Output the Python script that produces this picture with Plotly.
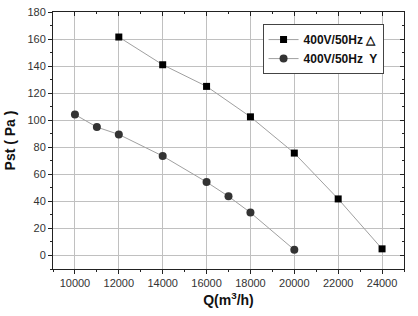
import plotly.graph_objects as go

q_delta = [12000, 14000, 16000, 18000, 20000, 22000, 24000]
p_delta = [161.5, 141, 125, 102.5, 75.7, 41.8, 4.9]
q_y = [10000, 11000, 12000, 14000, 16000, 17000, 18000, 20000]
p_y = [104.2, 94.9, 89.5, 73.5, 54.3, 43.7, 31.7, 4.2]

x_ticks = [10000, 12000, 14000, 16000, 18000, 20000, 22000, 24000]
y_ticks = [0, 20, 40, 60, 80, 100, 120, 140, 160, 180]

name_delta = "<b>400V/50Hz \u25b3</b>"
name_y = "<b>400V/50Hz  Y</b>"

fig = go.Figure()
fig.add_trace(go.Scatter(x=q_delta, y=p_delta, mode="lines+markers", name=name_delta,
                         line=dict(color="#a0a0a0", width=1),
                         marker=dict(symbol="square", size=7, color="#000000")))
fig.add_trace(go.Scatter(x=q_y, y=p_y, mode="lines+markers", name=name_y,
                         line=dict(color="#a0a0a0", width=1),
                         marker=dict(symbol="circle", size=8, color="#333333")))
# carrier for mirrored frame axes (top / right, inward ticks)
fig.add_trace(go.Scatter(x=[x_ticks[0]], y=[y_ticks[0]], xaxis="x2", yaxis="y2", mode="markers",
                         marker=dict(opacity=0), showlegend=False, hoverinfo="skip"))

font = "Liberation Sans, Arial, sans-serif"
xr = [9000, 25000]
yr = [-10, 180]
fig.update_layout(
    width=418, height=316,
    margin=dict(l=53, r=14, t=12, b=47, autoexpand=False),
    paper_bgcolor="white", plot_bgcolor="white",
    font=dict(family=font, size=11, color="#222222"),
    xaxis=dict(range=xr, tickvals=x_ticks, tickformat="d",
               showgrid=True, gridcolor="#c0c0c0", gridwidth=1,
               showline=True, linecolor="#222222", linewidth=1,
               ticks="outside", ticklen=4, tickcolor="#222222",
               minor=dict(dtick=1000, tick0=9000, ticks="outside", ticklen=2, tickcolor="#222222", showgrid=False),
               zeroline=False, automargin=False,
               tickfont=dict(size=11, color="#333333"),
               title=dict(text="<b>Q(m<sup>3</sup>/h)</b>", font=dict(size=14, color="#111111"), standoff=6)),
    yaxis=dict(range=yr, tickvals=y_ticks, tickformat="d",
               showgrid=True, gridcolor="#c0c0c0", gridwidth=1,
               showline=True, linecolor="#222222", linewidth=1,
               ticks="outside", ticklen=4, tickcolor="#222222",
               minor=dict(dtick=10, tick0=0, ticks="outside", ticklen=2, tickcolor="#222222", showgrid=False),
               zeroline=False, automargin=False,
               tickfont=dict(size=11, color="#333333"),
               title=dict(text="<b>Pst ( Pa )</b>", font=dict(size=14, color="#111111"), standoff=8)),
    xaxis2=dict(range=xr, overlaying="x", side="top", anchor="y2",
                tickvals=x_ticks, showticklabels=False, automargin=False,
                showgrid=False, zeroline=False, showline=True, linecolor="#222222", linewidth=1,
                ticks="inside", ticklen=4, tickcolor="#222222",
                minor=dict(dtick=1000, tick0=9000, ticks="inside", ticklen=2, tickcolor="#222222")),
    yaxis2=dict(range=yr, overlaying="y", side="right", anchor="x2",
                tickvals=y_ticks, showticklabels=False, automargin=False,
                showgrid=False, zeroline=False, showline=True, linecolor="#222222", linewidth=1,
                ticks="inside", ticklen=4, tickcolor="#222222",
                minor=dict(dtick=10, tick0=0, ticks="inside", ticklen=2, tickcolor="#222222")),
    legend=dict(x=0.597, y=0.953, xanchor="left", yanchor="top",
                bgcolor="white", bordercolor="#444444", borderwidth=1,
                font=dict(size=12, color="#111111", family=font),
                tracegroupgap=0),
    showlegend=True,
)

fig.write_html("out.html")
